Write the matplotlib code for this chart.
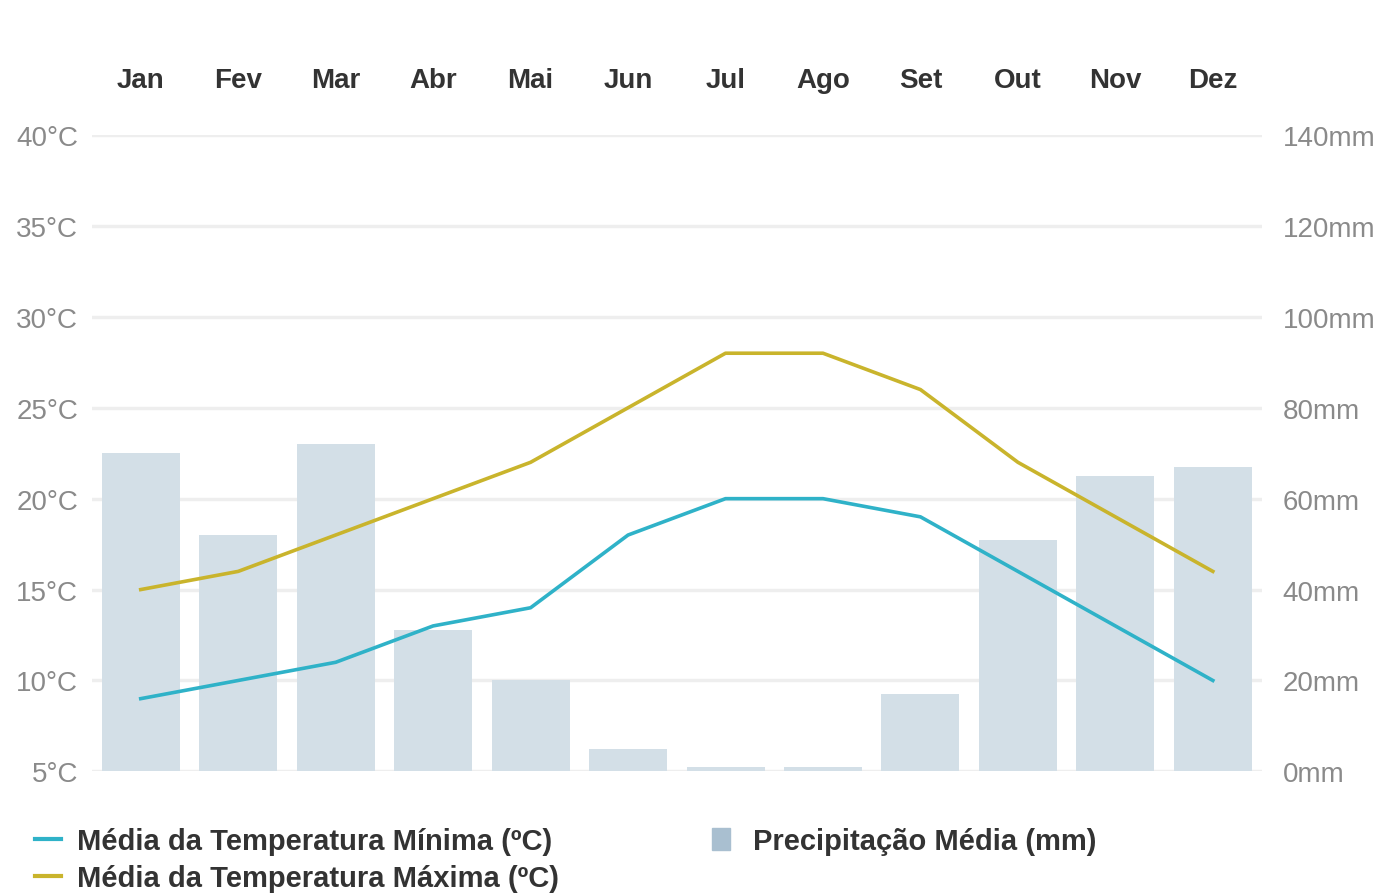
import matplotlib.pyplot as plt
from matplotlib.lines import Line2D
from matplotlib.patches import Patch

plt.rcParams['font.family'] = ['Liberation Sans', 'DejaVu Sans']

# dados
meses = ['Jan', 'Fev', 'Mar', 'Abr', 'Mai', 'Jun', 'Jul', 'Ago', 'Set', 'Out', 'Nov', 'Dez']
temp_min = [9, 10, 11, 13, 14, 18, 20, 20, 19, 16, 13, 10]
temp_max = [15, 16, 18, 20, 22, 25, 28, 28, 26, 22, 19, 16]
precipitacao = [70, 52, 72, 31, 20, 5, 1, 1, 17, 51, 65, 67]

cor_min = '#2fb2c8'
cor_max = '#c9b42c'
cor_barra = '#d3dfe7'
cor_texto = '#333333'
cor_eixo = '#8a8a8a'

fig = plt.figure(figsize=(13.94, 8.95), dpi=100)
ax = fig.add_axes([0.066, 0.137, 0.839, 0.711])
ax2 = ax.twinx()

# barras de precipitacao no eixo da direita
x = list(range(len(meses)))
ax2.bar(x, precipitacao, width=0.8, color=cor_barra, zorder=1)
ax2.set_ylim(0, 140)
ax2.set_yticks(range(0, 141, 20))
ax2.set_yticklabels([f'{v}mm' for v in range(0, 141, 20)])

# linhas de temperatura
ax.set_zorder(ax2.get_zorder() + 1)
ax.patch.set_visible(False)
ax.plot(x, temp_min, color=cor_min, lw=2.6, zorder=3)
ax.plot(x, temp_max, color=cor_max, lw=2.6, zorder=3)
ax.set_ylim(5, 40)
ax.set_yticks(range(5, 41, 5))
ax.set_yticklabels([f'{v}°C' for v in range(5, 41, 5)])
ax.set_xlim(-0.5, 11.5)

# grade
for v in range(0, 141, 20):
    ax2.axhline(v, color='#eeeeee', lw=2.5, zorder=0)

ax.xaxis.tick_top()
ax.set_xticks(x)
ax.set_xticklabels(meses, fontsize=20, fontweight='bold', color=cor_texto)
ax.tick_params(axis='x', length=0, pad=30)
ax.tick_params(axis='y', length=0, labelsize=20, labelcolor=cor_eixo, pad=10)
ax2.tick_params(axis='y', length=0, labelsize=20, labelcolor=cor_eixo, pad=15)
for a in (ax, ax2):
    for s in a.spines.values():
        s.set_visible(False)

# legendas
h_linhas = [Line2D([0], [0], color=cor_min, lw=3),
            Line2D([0], [0], color=cor_max, lw=3)]
leg1 = fig.legend(h_linhas,
                  ['Média da Temperatura Mínima (ºC)', 'Média da Temperatura Máxima (ºC)'],
                  loc='upper left', bbox_to_anchor=(0.006, 0.104), frameon=False,
                  handlelength=0.9, handletextpad=0.55, labelspacing=0.3,
                  prop={'size': 21, 'weight': 'bold'})
for t in leg1.get_texts():
    t.set_color(cor_texto)
leg2 = fig.legend([Patch(color='#a9bfd0')], ['Precipitação Média (mm)'],
                  loc='upper left', bbox_to_anchor=(0.492, 0.104), frameon=False,
                  handlelength=0.6, handleheight=0.8, handletextpad=0.8,
                  prop={'size': 21, 'weight': 'bold'})
for t in leg2.get_texts():
    t.set_color(cor_texto)

fig.savefig('out.png', dpi=100)
